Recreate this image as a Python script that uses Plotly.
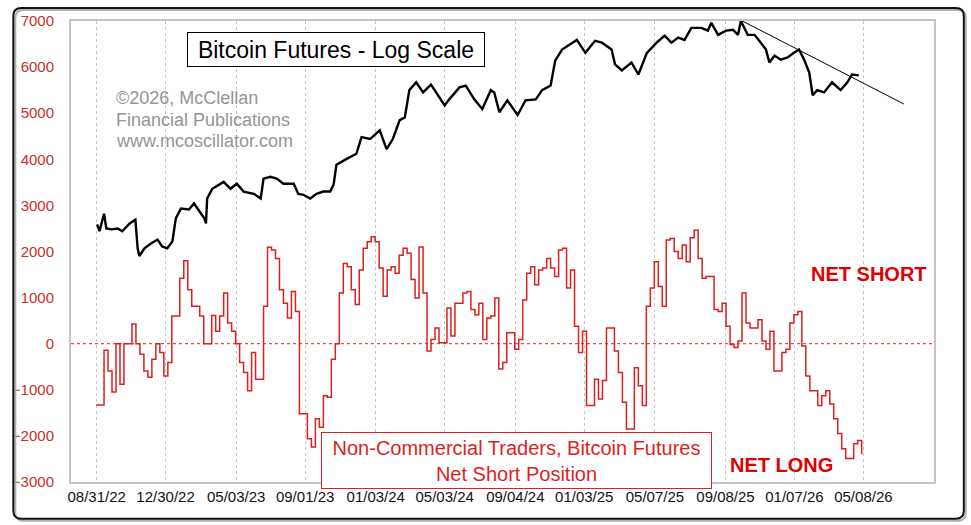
import pandas as pd
import plotly.graph_objects as go

W, H = 971, 525
L, R, T, B = 66, 37, 18, 43

FONT = "Liberation Sans, Arial, sans-serif"
RED = "#dc1f1f"

# x-axis label dates
tick_dates = ["2022-08-31", "2022-12-30", "2023-05-03", "2023-09-01", "2024-01-03", "2024-05-03",
              "2024-09-04", "2025-01-03", "2025-05-07", "2025-09-08", "2026-01-07", "2026-05-08"]

# weekly COT net short position (contracts), first report date below
cot_start = "2022-08-30"
net_short = [
    -1330, -1330, -140, -590, -1050, 0, -880, 0, 0, 430,
    0, -230, -590, -730, -340, 0, -190, -700, -410, 600,
    600, 1420, 1800, 1170, 810, 810, 600, 0, 0, 610,
    270, 600, 1100, 450, 270, 0, -410, -625, -1020, -190,
    -770, -770, 810, 2090, 2030, 1850, 1170, 880, 560, 1130,
    700, -1520, -1520, -2060, -2240, -1630, -1810, -1130, -1160, -340,
    0, 1100, 1740, 1670, 1170, 850, 1600, 2070, 2210, 2320,
    2210, 1640, 1030, 1600, 1670, 1530, 1920, 2070, 1960, 1390,
    990, 2100, 1100, -160, 90, 340, 20, 20, 775, 165,
    880, 880, 1100, 1130, 740, 630, 880, 90, 560, 600,
    990, -550, -410, 240, 240, -120, 90, 950, 1530, 1670,
    1280, 1600, 1640, 1850, 1640, 1460, 2030, 2070, 1210, 1600,
    380, -190, 270, -1340, -1340, -770, -1200, -800, 340, 340,
    -160, -625, -1270, -1850, -1850, -520, -910, -1340, 810, 1210,
    1780, 1240, 810, 2250, 2280, 2000, 1850, 2140, 1780, 2300,
    2460, 1850, 1420, 1460, 1460, 740, 700, 880, 380, -15,
    -85, 60, 1100, 450, 340, 340, 520, 60, -120, 270,
    -590, -590, -190, -120, 450, 630, 700, -50, -700, -1020,
    -1020, -1340, -1130, -1020, -1310, -1630, -1950, -2280, -2490, -2490,
    -2170, -2100, -2400,
]

# bitcoin futures, log scale, expressed in left-axis units
btc_dates = [
    "2022-09-01", "2022-09-05", "2022-09-13", "2022-09-17", "2022-09-26", "2022-10-07", "2022-10-15",
    "2022-10-28", "2022-11-07", "2022-11-11", "2022-11-14", "2022-11-23", "2022-12-05", "2022-12-16",
    "2022-12-24", "2023-01-02", "2023-01-11", "2023-01-17", "2023-01-26", "2023-02-09", "2023-02-18",
    "2023-02-27", "2023-03-08", "2023-03-11", "2023-03-13", "2023-03-22", "2023-04-11", "2023-04-23",
    "2023-05-04", "2023-05-16", "2023-06-03", "2023-06-15", "2023-06-20", "2023-07-02", "2023-07-13",
    "2023-07-25", "2023-08-12", "2023-08-20", "2023-08-29", "2023-09-10", "2023-09-21", "2023-10-03",
    "2023-10-15", "2023-10-21", "2023-10-26", "2023-11-13", "2023-11-30", "2023-12-09", "2023-12-24",
    "2024-01-10", "2024-01-22", "2024-02-02", "2024-02-14", "2024-02-23", "2024-03-02", "2024-03-14",
    "2024-03-26", "2024-04-09", "2024-04-21", "2024-05-03", "2024-05-11", "2024-05-29", "2024-06-09",
    "2024-06-24", "2024-07-08", "2024-07-23", "2024-07-29", "2024-08-07", "2024-08-21", "2024-09-08",
    "2024-09-22", "2024-10-10", "2024-10-21", "2024-11-05", "2024-11-13", "2024-11-25", "2024-12-21",
    "2025-01-05", "2025-01-22", "2025-02-03", "2025-02-20", "2025-02-26", "2025-03-10", "2025-03-27",
    "2025-04-08", "2025-04-23", "2025-05-10", "2025-05-24", "2025-06-05", "2025-06-17", "2025-06-28",
    "2025-07-10", "2025-07-28", "2025-08-08", "2025-08-14", "2025-08-26", "2025-09-09", "2025-09-21",
    "2025-09-30", "2025-10-05", "2025-10-17", "2025-10-29", "2025-11-09", "2025-11-18", "2025-11-24",
    "2025-12-03", "2025-12-14", "2025-12-26", "2026-01-06", "2026-01-15", "2026-01-24", "2026-02-02",
    "2026-02-08", "2026-02-16", "2026-02-28", "2026-03-14", "2026-03-29", "2026-04-10", "2026-04-18",
    "2026-04-30",
]
btc_level = [
    2590, 2440, 2820, 2500, 2480, 2500, 2440,
    2610, 2690, 2070, 1900, 2070, 2180, 2260,
    2110, 2070, 2220, 2720, 2930, 2910, 3040,
    2870, 2720, 2610, 3150, 3360, 3510, 3360,
    3470, 3300, 3250, 3150, 3580, 3620, 3580,
    3470, 3470, 3250, 3230, 3150, 3250, 3300,
    3300, 3450, 3880, 4010, 4120, 4480, 4440,
    4630, 4220, 4440, 4850, 4910, 5500, 5670,
    5450, 5620, 5390, 5170, 5300, 5560, 5600,
    5300, 5090, 5500, 5450, 5020, 5280, 4960,
    5280, 5300, 5500, 5600, 6140, 6380, 6590,
    6310, 6570, 6530, 6380, 6060, 5930, 6100,
    5840, 6310, 6530, 6680, 6530, 6640, 6590,
    6850, 6850, 6790, 6960, 6700, 6790, 6810,
    6700, 7000, 6700, 6700, 6530, 6380, 6100,
    6250, 6160, 6210, 6310, 6380, 6160, 5880,
    5390, 5500, 5450, 5670, 5500, 5670, 5840,
    5820,
]

# declining trendline across the price highs
trend_dates = ["2025-09-21", "2026-07-18"]
trend_level = [7105, 5200]

cot_dates = pd.date_range(cot_start, periods=len(net_short), freq="7D")


def px(x):
    return (x - L) / (W - L - R)


def py(y):
    return (H - B - y) / (H - T - B)


fig = go.Figure()

fig.add_trace(go.Scatter(
    x=cot_dates, y=net_short,
    mode="lines", line=dict(color=RED, width=1.5, shape="hv"),
    hoverinfo="skip",
))
fig.add_trace(go.Scatter(
    x=btc_dates, y=btc_level,
    mode="lines", line=dict(color="black", width=2.4),
    hoverinfo="skip",
))
fig.add_trace(go.Scatter(
    x=trend_dates, y=trend_level,
    mode="lines", line=dict(color="black", width=1),
    hoverinfo="skip",
))

# zero line
fig.add_shape(type="line", xref="paper", yref="y", x0=0, x1=1, y0=0, y1=0,
              line=dict(color=RED, width=1, dash="dot"), layer="below")

# rounded outer frame
x0, x1, y0, y1, r = 8, 964, 5, 519, 8
def frame_path(dx, dy):
    a, b, c, d = x0 + dx, x1 + dx, y0 + dy, y1 + dy
    return (f"M {px(a + r)},{py(c)} L {px(b - r)},{py(c)} Q {px(b)},{py(c)} {px(b)},{py(c + r)} "
            f"L {px(b)},{py(d - r)} Q {px(b)},{py(d)} {px(b - r)},{py(d)} "
            f"L {px(a + r)},{py(d)} Q {px(a)},{py(d)} {px(a)},{py(d - r)} "
            f"L {px(a)},{py(c + r)} Q {px(a)},{py(c)} {px(a + r)},{py(c)} Z")

fig.add_shape(type="path", xref="paper", yref="paper", path=frame_path(2, 2),
              line=dict(color="#b0b0b0", width=2))
fig.add_shape(type="path", xref="paper", yref="paper", path=frame_path(0, 0),
              line=dict(color="#111111", width=2))

annotations = [
    dict(text="Bitcoin Futures - Log Scale", x=px(333), y=py(46.5),
         font=dict(size=23, color="black", family=FONT),
         bordercolor="black", borderwidth=1, borderpad=0, width=296, height=33,
         bgcolor="white"),
    dict(text="NET SHORT", x=px(869), y=py(273),
         font=dict(size=20, color="#e00000", family=FONT, weight="bold")),
    dict(text="NET LONG", x=px(781), y=py(465),
         font=dict(size=20, color="#e00000", family=FONT, weight="bold")),
    dict(text="Non-Commercial Traders, Bitcoin Futures<br>Net Short Position",
         x=px(514.5), y=py(460.5),
         font=dict(size=20, color=RED, family=FONT),
         bordercolor=RED, borderwidth=1, borderpad=0, width=389, height=55,
         bgcolor="white"),
]
for line_text, ypix in [("©2026, McClellan", 96), ("Financial Publications", 117.5),
                        ("www.mcoscillator.com", 139)]:
    annotations.append(dict(text=line_text, x=px(109), y=py(ypix), xanchor="left",
                            font=dict(size=18, color="#959595", family=FONT)))
for a in annotations:
    a.setdefault("xanchor", "center")
    a.update(xref="paper", yref="paper", yanchor="middle", showarrow=False)

fig.update_layout(
    width=W, height=H,
    margin=dict(l=L, r=R, t=T, b=B),
    paper_bgcolor="white", plot_bgcolor="white",
    showlegend=False,
    font=dict(family=FONT),
    annotations=annotations,
    xaxis=dict(
        type="date",
        range=["2022-07-17", "2026-09-09"],
        tickvals=tick_dates, tickformat="%m/%d/%y",
        tickfont=dict(size=15, color="#111111", family=FONT),
        showgrid=True, gridcolor="#c6c6c6", griddash="dot", gridwidth=1,
        showline=True, mirror=True, linecolor="#c4c4c4", linewidth=2,
        ticks="", ticklabelstandoff=0, zeroline=False,
    ),
    yaxis=dict(
        range=[-3000, 7000],
        tickvals=list(range(-3000, 7001, 1000)),
        tickfont=dict(size=15, color="#c4302b", family=FONT),
        showgrid=False, zeroline=False,
        showline=True, mirror=True, linecolor="#c4c4c4", linewidth=2,
        ticks="", ticklabelstandoff=12,
    ),
)

fig.write_html("out.html", config={"displayModeBar": False},
               post_script="document.body.style.margin = '0';")
